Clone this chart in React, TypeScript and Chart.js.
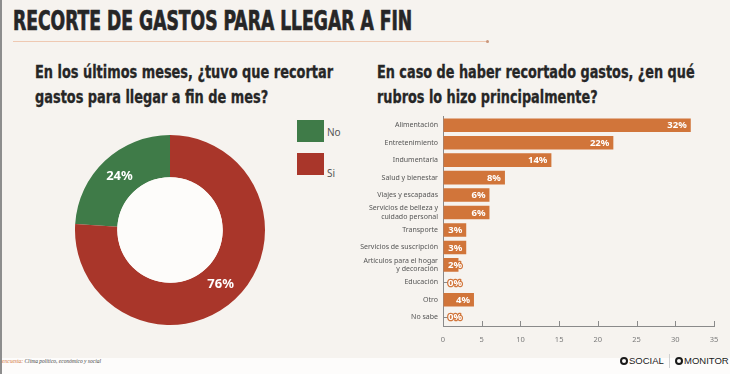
import React, { useEffect, useLayoutEffect, useRef, useState } from "react";
import { Chart, registerables } from "chart.js";

Chart.register(...registerables);

const TITLE = "RECORTE DE GASTOS PARA LLEGAR A FIN";
const LEFT_Q = ["En los últimos meses, ¿tuvo que recortar", "gastos para llegar a fin de mes?"];
const RIGHT_Q = ["En caso de haber recortado gastos, ¿en qué", "rubros lo hizo principalmente?"];

const DONUT_LABELS = ["No", "Si"];
const DONUT_VALUES = [24, 76];
const DONUT_COLORS = ["#3f7b48", "#a9362a"];

const BAR_LABELS: (string | string[])[] = [
  "Alimentación",
  "Entretenimiento",
  "Indumentaria",
  "Salud y bienestar",
  "Viajes y escapadas",
  ["Servicios de belleza y", "cuidado personal"],
  "Transporte",
  "Servicios de suscripción",
  ["Artículos para el hogar", "y decoración"],
  "Educación",
  "Otro",
  "No sabe",
];
const BAR_VALUES = [32, 22, 14, 8, 6, 6, 3, 3, 2, 0, 4, 0];
const X_TICKS = [0, 5, 10, 15, 20, 25, 30, 35];

const BAR_COLOR = "#d1753a";
const BG = "#f6f3ef";
const TICK_FONT = "'Noto Sans', sans-serif";
const CONDENSED = "'DejaVu Sans Condensed', 'DejaVu Sans', sans-serif";

function FitText({
  target,
  style,
  children,
}: {
  target: number;
  style: React.CSSProperties;
  children: React.ReactNode;
}) {
  const ref = useRef<HTMLDivElement>(null);
  const [scale, setScale] = useState(1);
  useLayoutEffect(() => {
    const el = ref.current;
    if (!el) return;
    const w = el.scrollWidth;
    if (w > 0) setScale(target / w);
  }, [target]);
  return (
    <div
      ref={ref}
      style={{
        ...style,
        position: "absolute",
        whiteSpace: "nowrap",
        transform: `scaleX(${scale})`,
        transformOrigin: "left top",
        width: "max-content",
      }}
    >
      {children}
    </div>
  );
}

function DonutChart() {
  const ref = useRef<HTMLCanvasElement>(null);
  useEffect(() => {
    const total = DONUT_VALUES.reduce((a, b) => a + b, 0);
    const rotation = 360 - (DONUT_VALUES[0] / total) * 360;
    const holePlugin = {
      id: "hole",
      afterDatasetsDraw(chart: any) {
        const meta = chart.getDatasetMeta(0);
        const ctx = chart.ctx;
        const arc0 = meta.data[0];
        ctx.save();
        ctx.beginPath();
        ctx.arc(arc0.x, arc0.y, arc0.innerRadius, 0, Math.PI * 2);
        ctx.fillStyle = "#fdfcfa";
        ctx.fill();
        ctx.font = "700 13px 'Noto Sans', sans-serif";
        ctx.fillStyle = "#ffffff";
        ctx.textAlign = "center";
        ctx.textBaseline = "middle";
        meta.data.forEach((arc: any, i: number) => {
          const p = arc.tooltipPosition();
          ctx.fillText(`${DONUT_VALUES[i]}%`, p.x, p.y);
        });
        ctx.restore();
      },
    };
    const chart = new Chart(ref.current!, {
      type: "doughnut",
      data: {
        labels: DONUT_LABELS,
        datasets: [
          {
            data: DONUT_VALUES,
            backgroundColor: DONUT_COLORS,
            borderWidth: 0,
          },
        ],
      },
      options: {
        animation: false,
        responsive: false,
        rotation,
        cutout: "55.5%",
        layout: { padding: 15 },
        plugins: { legend: { display: false }, tooltip: { enabled: false } },
      },
      plugins: [holePlugin],
    });
    return () => chart.destroy();
  }, []);
  return <canvas ref={ref} width={220} height={220} style={{ position: "absolute", left: 60, top: 120 }} />;
}

function BarChart() {
  const ref = useRef<HTMLCanvasElement>(null);
  useEffect(() => {
    const axisColor = "#8a8a8a";
    const tickPlugin = {
      id: "innerTicks",
      beforeDatasetsDraw(chart: any) {
        const ctx = chart.ctx;
        const x = chart.scales.x;
        const y = chart.scales.y;
        ctx.save();
        ctx.strokeStyle = axisColor;
        ctx.lineWidth = 1;
        X_TICKS.forEach((t) => {
          if (t === 0) return;
          const px = Math.round(x.getPixelForValue(t)) + 0.5;
          ctx.beginPath();
          ctx.moveTo(px, y.bottom);
          ctx.lineTo(px, y.bottom - 5);
          ctx.stroke();
        });
        BAR_LABELS.forEach((_, i) => {
          const py = Math.round(y.getPixelForValue(i)) + 0.5;
          ctx.beginPath();
          ctx.moveTo(x.left, py);
          ctx.lineTo(x.left + 7, py);
          ctx.stroke();
        });
        ctx.restore();
      },
      afterDatasetsDraw(chart: any) {
        const ctx = chart.ctx;
        const meta = chart.getDatasetMeta(0);
        const x = chart.scales.x;
        ctx.save();
        ctx.font = "700 9.5px 'Noto Sans', sans-serif";
        ctx.textAlign = "right";
        ctx.textBaseline = "middle";
        ctx.lineJoin = "round";
        meta.data.forEach((bar: any, i: number) => {
          const v = BAR_VALUES[i];
          const tx = Math.max(bar.x - 4, x.left + 19);
          const txt = `${v}%`;
          ctx.strokeStyle = BAR_COLOR;
          ctx.lineWidth = 2.5;
          ctx.strokeText(txt, tx, bar.y + 0.5);
          ctx.fillStyle = "#ffffff";
          ctx.fillText(txt, tx, bar.y + 0.5);
        });
        ctx.restore();
      },
    };
    const chart = new Chart(ref.current!, {
      type: "bar",
      data: {
        labels: BAR_LABELS,
        datasets: [
          {
            data: BAR_VALUES,
            backgroundColor: BAR_COLOR,
            barPercentage: 0.78,
            categoryPercentage: 1,
          },
        ],
      },
      options: {
        animation: false,
        responsive: false,
        indexAxis: "y",
        layout: { padding: { top: 16.5, right: 16, left: 0, bottom: 0 } },
        plugins: { legend: { display: false }, tooltip: { enabled: false } },
        scales: {
          x: {
            min: 0,
            max: 35,
            afterBuildTicks(scale: any) {
              scale.ticks = X_TICKS.map((v) => ({ value: v }));
            },
            afterFit(scale: any) {
              scale.height = 24;
            },
            grid: { display: true, drawOnChartArea: false, drawTicks: false },
            border: { display: true, color: axisColor, width: 1 },
            ticks: {
              padding: 9,
              color: "#7a7a7a",
              font: { family: TICK_FONT, size: 7.5 },
            },
          },
          y: {
            afterFit(scale: any) {
              scale.width = 83;
            },
            grid: { display: true, drawOnChartArea: false, drawTicks: false },
            border: { display: true, color: axisColor, width: 1 },
            ticks: {
              padding: 5,
              color: "#555555",
              autoSkip: false,
              font: { family: TICK_FONT, size: 7, lineHeight: 1.25 },
            },
          },
        },
      },
      plugins: [tickPlugin],
    });
    return () => chart.destroy();
  }, []);
  return <canvas ref={ref} width={370} height={250} style={{ position: "absolute", left: 360, top: 100 }} />;
}

function Ring() {
  return (
    <span
      style={{
        display: "inline-block",
        width: 4,
        height: 4,
        border: "2px solid #1a1a1a",
        borderRadius: "50%",
        marginRight: 1,
        verticalAlign: "middle",
      }}
    />
  );
}

export default function App() {
  const qStyle: React.CSSProperties = {
    fontFamily: CONDENSED,
    fontWeight: 700,
    fontSize: 17,
    lineHeight: "25px",
    color: "#262626",
    WebkitTextStroke: "0.3px #262626",
  };
  return (
    <div style={{ position: "fixed", left: 0, top: 0, width: 730, height: 374, background: BG, overflow: "hidden" }}>
      <FitText
        target={399}
        style={{
          left: 13,
          top: 5,
          fontFamily: CONDENSED,
          fontWeight: 700,
          fontSize: 26,
          lineHeight: "32px",
          color: "#262626",
          WebkitTextStroke: "0.7px #262626",
        }}
      >
        {TITLE}
      </FitText>
      <div style={{ position: "absolute", left: 13, top: 41, width: 475, height: 1, background: "#efc9b2" }} />
      <div style={{ position: "absolute", left: 486, top: 40, width: 3, height: 3, borderRadius: 2, background: "#c9967a" }} />
      <FitText target={298} style={{ ...qStyle, left: 35, top: 60 }}>
        {LEFT_Q[0]}
        <br />
        {LEFT_Q[1]}
      </FitText>
      <FitText target={318} style={{ ...qStyle, left: 377, top: 60 }}>
        {RIGHT_Q[0]}
        <br />
        {RIGHT_Q[1]}
      </FitText>
      <DonutChart />
      {DONUT_LABELS.map((l, i) => (
        <div key={l}>
          <div
            style={{
              position: "absolute",
              left: 297,
              top: 120 + i * 33,
              width: 27,
              height: 22,
              background: DONUT_COLORS[i],
            }}
          />
          <div
            style={{
              position: "absolute",
              left: 327,
              top: i === 0 ? 125 : 166,
              fontFamily: "'Noto Sans', sans-serif",
              fontSize: 10,
              lineHeight: "14px",
              color: "#555",
            }}
          >
            {l}
          </div>
        </div>
      ))}
      <BarChart />
      <div style={{ position: "absolute", left: 0, top: 358, width: 730, height: 16, background: "#fdfcfb" }} />
      <div style={{ position: "absolute", left: 0, top: 0, width: 2, height: 374, background: "#8d8d8d" }} />
      <div
        style={{
          position: "absolute",
          left: 2,
          top: 358,
          fontFamily: "'Liberation Serif', serif",
          fontStyle: "italic",
          fontSize: 5.5,
          color: "#444",
          whiteSpace: "nowrap",
        }}
      >
        <span style={{ color: "#d1753a" }}>encuesta: </span>Clima político, económico y social
      </div>
      <div
        style={{
          position: "absolute",
          left: 620,
          top: 354,
          fontFamily: "'Liberation Sans', sans-serif",
          fontSize: 9.5,
          lineHeight: "14px",
          color: "#1a1a1a",
          whiteSpace: "nowrap",
        }}
      >
        <Ring />
        <span>SOCIAL</span>
      </div>
      <div style={{ position: "absolute", left: 669, top: 354, width: 1, height: 14, background: "#d0d0d0" }} />
      <div
        style={{
          position: "absolute",
          left: 675,
          top: 354,
          fontFamily: "'Liberation Sans', sans-serif",
          fontSize: 9.5,
          lineHeight: "14px",
          color: "#1a1a1a",
          whiteSpace: "nowrap",
        }}
      >
        <Ring />
        <span>MONITOR</span>
      </div>
    </div>
  );
}
